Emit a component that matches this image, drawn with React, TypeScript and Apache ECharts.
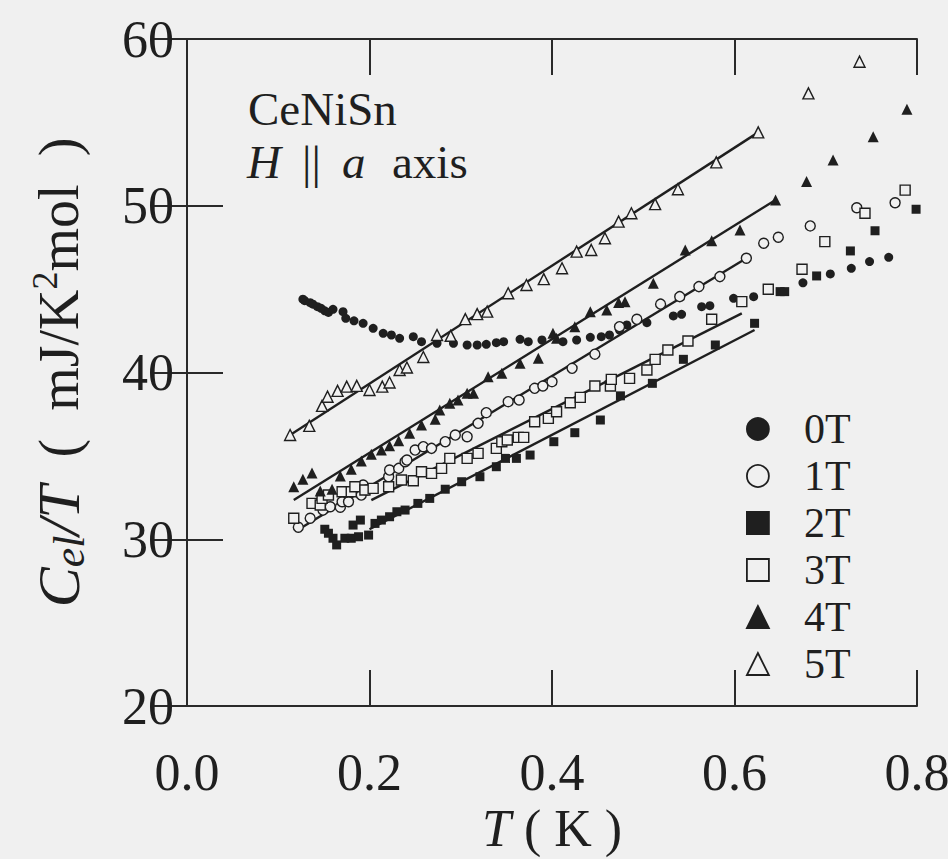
import React, { useEffect, useRef } from "react";
import * as echarts from "echarts";

// ---- data (T in K, C_el/T in mJ/K^2 mol) ----
const seriesNames = ["0T", "1T", "2T", "3T", "4T", "5T"];

const data0T: number[][] = [
  [0.127, 44.4], [0.129, 44.31], [0.135, 44.19], [0.138, 44.1], [0.143, 43.95], [0.147, 43.85],
  [0.151, 43.7], [0.155, 43.6], [0.16, 43.79], [0.171, 43.65], [0.174, 43.25], [0.183, 43.1],
  [0.193, 42.95], [0.204, 42.65], [0.215, 42.35], [0.224, 42.25], [0.233, 42.05], [0.248, 42.15],
  [0.257, 41.85], [0.274, 41.75], [0.292, 41.75], [0.307, 41.65], [0.318, 41.65], [0.328, 41.69],
  [0.339, 41.79], [0.347, 41.85], [0.365, 41.99], [0.374, 41.85], [0.389, 41.95], [0.412, 41.85],
  [0.427, 41.95], [0.442, 42.11], [0.454, 42.15], [0.463, 42.25], [0.474, 42.55], [0.482, 42.85],
  [0.493, 43.15], [0.504, 42.99], [0.533, 43.39], [0.542, 43.49], [0.564, 43.95], [0.573, 44.01],
  [0.599, 44.45], [0.621, 44.55], [0.675, 45.38], [0.705, 45.91], [0.728, 46.25], [0.748, 46.65],
  [0.769, 46.91],
];

const data1T: number[][] = [
  [0.122, 30.72], [0.135, 31.26], [0.149, 31.75], [0.157, 31.95], [0.168, 31.92], [0.17, 32.25],
  [0.177, 32.25], [0.191, 32.65], [0.193, 33.25], [0.197, 32.95], [0.221, 33.75], [0.222, 34.15],
  [0.232, 34.25], [0.239, 34.65], [0.241, 34.75], [0.25, 35.35], [0.259, 35.55], [0.268, 35.45],
  [0.283, 35.85], [0.294, 36.25], [0.307, 36.15], [0.319, 36.95], [0.328, 37.59], [0.352, 38.25],
  [0.364, 38.35], [0.381, 39.05], [0.39, 39.19], [0.4, 39.45], [0.422, 40.25], [0.447, 41.1],
  [0.474, 42.75], [0.493, 43.19], [0.519, 44.1], [0.54, 44.55], [0.561, 45.15], [0.584, 45.75],
  [0.613, 46.85], [0.632, 47.75], [0.648, 48.11], [0.683, 48.79], [0.734, 49.88], [0.776, 50.18],
];

const data2T: number[][] = [
  [0.151, 30.6], [0.155, 30.36], [0.16, 30.06], [0.164, 29.66], [0.173, 30.06], [0.18, 30.06],
  [0.182, 30.85], [0.188, 30.15], [0.19, 31.15], [0.199, 30.25], [0.206, 30.95], [0.213, 31.15],
  [0.222, 31.35], [0.23, 31.65], [0.239, 31.75], [0.253, 32.15], [0.266, 32.45], [0.283, 33.0],
  [0.301, 33.45], [0.321, 33.75], [0.339, 34.35], [0.349, 34.85], [0.361, 34.85], [0.376, 35.05],
  [0.402, 35.85], [0.425, 36.39], [0.453, 37.15], [0.475, 38.6], [0.51, 39.35], [0.544, 40.79],
  [0.579, 41.65], [0.622, 42.95], [0.65, 44.85], [0.655, 44.85], [0.69, 45.79], [0.727, 47.29],
  [0.754, 48.5], [0.799, 49.79],
];

const data3T: number[][] = [
  [0.117, 31.26], [0.137, 32.15], [0.146, 32.05], [0.148, 32.45], [0.155, 32.65], [0.17, 32.85],
  [0.18, 32.85], [0.184, 33.15], [0.195, 32.95], [0.204, 33.05], [0.221, 33.15], [0.235, 33.55],
  [0.248, 33.51], [0.257, 34.05], [0.268, 33.95], [0.279, 34.25], [0.288, 34.85], [0.307, 34.85],
  [0.319, 35.15], [0.339, 35.45], [0.345, 35.85], [0.351, 35.95], [0.363, 36.11], [0.369, 36.11],
  [0.381, 37.05], [0.396, 37.25], [0.405, 37.65], [0.42, 38.19], [0.431, 38.51], [0.447, 39.19],
  [0.464, 39.19], [0.465, 39.59], [0.485, 39.65], [0.504, 40.15], [0.513, 40.79], [0.527, 41.35],
  [0.549, 41.89], [0.575, 43.19], [0.608, 44.25], [0.637, 44.99], [0.674, 46.19], [0.699, 47.85],
  [0.743, 49.55], [0.787, 50.94],
];

const data4T: number[][] = [
  [0.117, 33.15], [0.127, 33.6], [0.137, 33.97], [0.146, 32.9], [0.159, 33.0], [0.168, 33.8],
  [0.18, 34.2], [0.191, 34.7], [0.202, 35.1], [0.213, 35.35], [0.222, 35.6], [0.232, 35.9],
  [0.244, 36.35], [0.257, 36.85], [0.272, 37.2], [0.277, 37.75], [0.288, 38.15], [0.297, 38.35],
  [0.307, 38.75], [0.314, 38.75], [0.33, 39.75], [0.345, 39.95], [0.365, 40.55], [0.385, 40.85],
  [0.401, 42.35], [0.405, 42.05], [0.425, 42.75], [0.442, 43.65], [0.46, 43.75], [0.473, 44.2],
  [0.48, 44.25], [0.511, 45.35], [0.546, 47.35], [0.575, 47.9], [0.606, 48.55], [0.645, 50.35],
  [0.679, 51.45], [0.708, 52.75], [0.752, 54.14], [0.789, 55.78],
];

const data5T: number[][] = [
  [0.113, 36.25], [0.134, 36.8], [0.148, 38.0], [0.154, 38.55], [0.165, 38.9], [0.175, 39.15],
  [0.186, 39.2], [0.2, 38.95], [0.214, 39.15], [0.222, 39.4], [0.233, 40.15], [0.241, 40.3],
  [0.259, 40.93], [0.274, 42.25], [0.289, 42.2], [0.305, 43.2], [0.318, 43.5], [0.329, 43.65],
  [0.352, 44.75], [0.372, 45.25], [0.391, 45.6], [0.411, 46.25], [0.427, 47.25], [0.443, 47.35],
  [0.458, 48.05], [0.473, 49.05], [0.487, 49.55], [0.513, 50.1], [0.538, 50.99], [0.58, 52.6],
  [0.626, 54.4], [0.681, 56.74], [0.737, 58.64],
];

// linear fits drawn in the reference (end points)
const fit1T: number[][] = [[0.124, 30.65], [0.613, 46.85]];
const fit2T: number[][] = [[0.2, 30.6], [0.622, 42.55]];
const fit3T: number[][] = [[0.202, 32.35], [0.608, 43.55]];
const fit4T: number[][] = [[0.117, 32.35], [0.645, 50.35]];
const fit5T: number[][] = [[0.113, 36.25], [0.626, 54.4]];

const xMin = 0, xMax = 0.8, xStep = 0.2;
const yMin = 20, yMax = 60, yStep = 10;

export default function App() {
  const ref = useRef<HTMLDivElement>(null);

  useEffect(() => {
    if (!ref.current) return;
    const chart = echarts.init(ref.current, null, { renderer: "svg" });
    const ink = "#1f1f1f";
    const bg = "#f0f0f0";
    const font = "'Liberation Serif', 'Times New Roman', serif";

    const scatter = (name: string, data: number[][], symbol: string, filled: boolean, size: number) => ({
      name,
      type: "scatter",
      data,
      symbol,
      symbolSize: size,
      itemStyle: filled
        ? { color: ink, borderColor: ink, borderWidth: 0, opacity: 1 }
        : { color: bg, borderColor: ink, borderWidth: 1.4, opacity: 1 },
      z: 3,
    });
    const fit = (data: number[][]) => ({
      type: "line",
      data,
      symbol: "none",
      silent: true,
      lineStyle: { color: ink, width: 2.4 },
      z: 2,
    });

    const axisLine = { show: true, lineStyle: { color: "#2a2a2a", width: 2 } };
    const axisTick = { show: true, inside: true, length: 36, lineStyle: { color: "#2a2a2a", width: 2 } };
    const labelStyle = { fontSize: 52, fontFamily: font, color: ink };
    const annot = (text: string, left: number, top: number, italic: boolean) => ({
      type: "text",
      left,
      top,
      style: {
        text,
        fontSize: 47,
        lineHeight: 42,
        fontFamily: font,
        fontStyle: italic ? "italic" : "normal",
        fill: ink,
      },
    });

    chart.setOption({
      animation: false,
      backgroundColor: bg,
      grid: { left: 187, right: 31, top: 39, bottom: 153, outerBoundsMode: "none" },
      xAxis: [
        {
          type: "value", min: xMin, max: xMax, interval: xStep, position: "bottom",
          axisLine, axisTick, splitLine: { show: false },
          axisLabel: { ...labelStyle, margin: 40, formatter: (v: number) => v.toFixed(1) },
          name: "{i|T}{n| ( K )}",
          nameLocation: "middle",
          nameGap: 96,
          nameTextStyle: {
            rich: {
              i: { fontSize: 52, fontFamily: font, fontStyle: "italic", color: ink },
              n: { fontSize: 52, fontFamily: font, color: ink },
            },
          },
        },
        {
          type: "value", min: xMin, max: xMax, interval: xStep, position: "top",
          axisLine, axisTick, splitLine: { show: false }, axisLabel: { show: false },
        },
      ],
      yAxis: [
        {
          type: "value", min: yMin, max: yMax, interval: yStep, position: "left",
          axisLine, axisTick, splitLine: { show: false },
          axisLabel: { ...labelStyle, margin: 13 },
          name: "{i|C}{sub|el}{i|/T}{n|  (  mJ/K}{sup|2}{n|mol  )}",
          nameLocation: "middle",
          nameRotate: 90,
          nameGap: 96,
          nameTextStyle: {
            rich: {
              i: { fontSize: 60, fontFamily: font, fontStyle: "italic", color: ink, lineHeight: 64 },
              n: { fontSize: 56, fontFamily: font, color: ink, lineHeight: 64 },
              sub: { fontSize: 44, fontFamily: font, fontStyle: "italic", color: ink, verticalAlign: "bottom", lineHeight: 42 },
              sup: { fontSize: 36, fontFamily: font, color: ink, verticalAlign: "top", lineHeight: 36 },
            },
          },
        },
        {
          type: "value", min: yMin, max: yMax, interval: yStep, position: "right",
          axisLine, axisTick, splitLine: { show: false }, axisLabel: { show: false },
        },
      ],
      legend: {
        data: seriesNames,
        orient: "vertical",
        left: 741,
        top: 403,
        itemWidth: 22,
        itemHeight: 22,
        itemGap: 5,
        textStyle: { fontSize: 42, fontFamily: font, color: ink, lineHeight: 40, padding: [0, 0, 0, 30] },
        itemStyle: { borderWidth: 1.8, opacity: 1 },
      },
      graphic: [
        annot("CeNiSn", 248, 85, false),
        annot("H", 247, 138, true),
        annot("||", 302, 138, false),
        annot("a", 342, 138, true),
        annot("axis", 392, 138, false),
      ],
      series: [
        scatter("0T", data0T, "circle", true, 9),
        scatter("1T", data1T, "circle", false, 10),
        scatter("2T", data2T, "rect", true, 9),
        scatter("3T", data3T, "rect", false, 10),
        scatter("4T", data4T, "triangle", true, 11),
        scatter("5T", data5T, "triangle", false, 11),
        fit(fit1T),
        fit(fit2T),
        fit(fit3T),
        fit(fit4T),
        fit(fit5T),
      ],
    });

    return () => chart.dispose();
  }, []);

  return (
    <div
      ref={ref}
      style={{ position: "fixed", left: 0, top: 0, width: 948, height: 859 }}
    />
  );
}
